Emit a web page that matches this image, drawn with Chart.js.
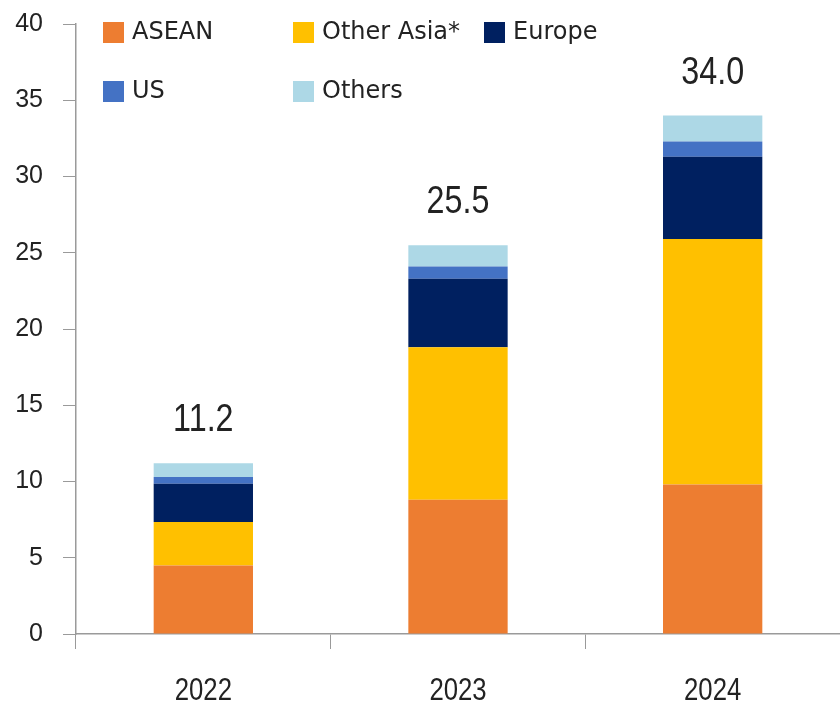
<!DOCTYPE html>
<html>
<head>
<meta charset="utf-8">
<script src="https://cdn.jsdelivr.net/npm/chart.js@4.4.1/dist/chart.umd.min.js"></script>
<style>
  html, body { margin: 0; padding: 0; background: #fff; }
  #wrap { width: 840px; height: 704px; position: relative; }
</style>
</head>
<body>
<div id="wrap"><canvas id="chart"></canvas></div>
<script>
const years = ['2022', '2023', '2024'];
const asean = [4.5, 8.8, 9.8];
const otherAsia = [2.85, 10.0, 16.1];
const europe = [2.5, 4.5, 5.4];
const us = [0.45, 0.8, 1.0];
const others = [0.9, 1.4, 1.7];
const yTicks = [0, 5, 10, 15, 20, 25, 30, 35, 40];

const AXIS_GREY = '#9a9a9a';
const TEXT = '#222';

// legend laid out in two rows, three columns
const legendSlots = [
  { x: 103, y: 33 }, { x: 293, y: 33 }, { x: 484, y: 33 },
  { x: 103, y: 92 }, { x: 293, y: 92 }
];

// draw text squeezed horizontally (narrow face look)
function narrowText(ctx, str, x, y, scaleX) {
  ctx.save();
  ctx.translate(x, y);
  ctx.scale(scaleX, 1);
  ctx.fillText(str, 0, 0);
  ctx.restore();
}

const legendPlugin = {
  id: 'gridLegend',
  afterDraw(chart) {
    const ctx = chart.ctx;
    ctx.save();
    ctx.font = '24px "DejaVu Sans", sans-serif';
    ctx.textBaseline = 'middle';
    chart.data.datasets.forEach((ds, i) => {
      const s = legendSlots[i];
      ctx.fillStyle = ds.backgroundColor;
      ctx.fillRect(s.x, s.y - 11, 21, 21);
      ctx.fillStyle = TEXT;
      ctx.fillText(ds.label, s.x + 29, s.y);
    });
    ctx.restore();
  }
};

// category labels under the x axis
const yearLabelsPlugin = {
  id: 'yearLabels',
  afterDraw(chart) {
    const ctx = chart.ctx;
    const x = chart.scales.x;
    ctx.save();
    ctx.font = '31px "Liberation Sans", sans-serif';
    ctx.fillStyle = TEXT;
    ctx.textAlign = 'center';
    ctx.textBaseline = 'alphabetic';
    chart.data.labels.forEach((lbl, i) => {
      narrowText(ctx, lbl, x.getPixelForTick(i), x.top + 66, 0.83);
    });
    ctx.restore();
  }
};

// total above each stack
const totalsPlugin = {
  id: 'totals',
  afterDatasetsDraw(chart) {
    const ctx = chart.ctx;
    const y = chart.scales.y;
    const meta = chart.getDatasetMeta(0);
    ctx.save();
    ctx.font = '38px "Liberation Sans", sans-serif';
    ctx.fillStyle = TEXT;
    ctx.textAlign = 'center';
    ctx.textBaseline = 'alphabetic';
    years.forEach((yr, i) => {
      const total = chart.data.datasets.reduce((s, ds) => s + ds.data[i], 0);
      narrowText(ctx, total.toFixed(1), meta.data[i].x, y.getPixelForValue(total) - 32, 0.85);
    });
    ctx.restore();
  }
};

new Chart(document.getElementById('chart'), {
  type: 'bar',
  data: {
    labels: years,
    datasets: [
      { label: 'ASEAN', data: asean, backgroundColor: '#ED7D31' },
      { label: 'Other Asia*', data: otherAsia, backgroundColor: '#FFC000' },
      { label: 'Europe', data: europe, backgroundColor: '#002060' },
      { label: 'US', data: us, backgroundColor: '#4472C4' },
      { label: 'Others', data: others, backgroundColor: '#ADD8E6' }
    ]
  },
  options: {
    responsive: true,
    maintainAspectRatio: false,
    animation: false,
    layout: { padding: { top: 24, right: 0, left: 0, bottom: 0 } },
    datasets: { bar: { barPercentage: 0.39, categoryPercentage: 1 } },
    plugins: {
      legend: { display: false },
      tooltip: { enabled: false }
    },
    scales: {
      x: {
        stacked: true,
        grid: { drawOnChartArea: false, tickLength: 15, color: AXIS_GREY, offset: true },
        border: { color: AXIS_GREY, width: 1.5 },
        ticks: { display: false },
        afterFit(scale) { scale.height = 70; }
      },
      y: {
        stacked: true,
        min: 0,
        max: 40,
        afterBuildTicks(scale) { scale.ticks = yTicks.map(v => ({ value: v })); },
        grid: { drawOnChartArea: false, tickLength: 13, color: AXIS_GREY },
        border: { color: AXIS_GREY, width: 1.5 },
        ticks: { color: TEXT, font: { family: '"Liberation Sans", sans-serif', size: 25 }, padding: 20 },
        afterFit(scale) {
          scale.width = 76;
          scale.paddingTop = 0;
          scale.paddingBottom = 0;
        }
      }
    }
  },
  plugins: [legendPlugin, yearLabelsPlugin, totalsPlugin]
});
</script>
</body>
</html>
